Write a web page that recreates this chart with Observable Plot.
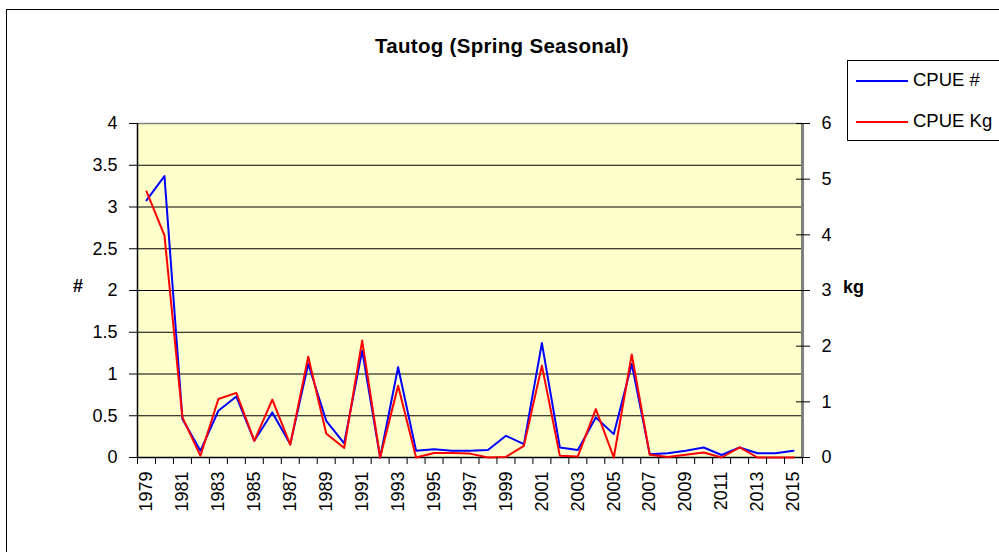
<!DOCTYPE html>
<html>
<head>
<meta charset="utf-8">
<script src="https://cdn.jsdelivr.net/npm/d3@7"></script>
<script src="https://cdn.jsdelivr.net/npm/@observablehq/plot@0.6"></script>
<style>
  body { margin: 0; background: #fff; font-family: "Liberation Sans", Arial, sans-serif; }
  #wrap { position: relative; width: 999px; height: 552px; overflow: hidden; }
  #border { position: absolute; left: 6px; top: 9px; width: 1100px; height: 600px; border-left: 1px solid #000; border-top: 1px solid #000; }
  #title { position: absolute; left: 0; width: 1004px; top: 34px; text-align: center; font-weight: bold; font-size: 20.5px; letter-spacing: 0.3px; }
  .axlab { position: absolute; font-weight: bold; font-size: 18px; }
  #legend { position: absolute; left: 847px; top: 60px; width: 200px; height: 81px; border: 1px solid #000; box-sizing: border-box; background: #fff; }
  .lg { position: absolute; left: 65px; font-size: 18.5px; }
  .lgline { position: absolute; left: 8px; width: 52px; height: 2px; }
  #chart { position: absolute; left: 0; top: 0; }
</style>
</head>
<body>
<div id="wrap">
  <div id="border"></div>
  <div id="chart"></div>
  <div id="title">Tautog (Spring Seasonal)</div>
  <div class="axlab" style="left:73px; top:276px;">#</div>
  <div class="axlab" style="left:843px; top:277px;">kg</div>
  <div id="legend">
    <div class="lgline" style="top:19px; background:#0000FF;"></div>
    <div class="lg" style="top:8px;">CPUE #</div>
    <div class="lgline" style="top:60px; background:#FF0000;"></div>
    <div class="lg" style="top:49px;">CPUE Kg</div>
  </div>
</div>
<script>
const years = [1979,1980,1981,1982,1983,1984,1985,1986,1987,1988,1989,1990,1991,1992,1993,1994,1995,1996,1997,1998,1999,2000,2001,2002,2003,2004,2005,2006,2007,2008,2009,2010,2011,2012,2013,2014,2015];
const cpueNum = [3.08,3.37,0.46,0.08,0.56,0.73,0.20,0.54,0.16,1.12,0.44,0.17,1.28,0.00,1.08,0.08,0.10,0.08,0.08,0.09,0.26,0.16,1.37,0.12,0.09,0.48,0.28,1.12,0.04,0.05,0.08,0.12,0.03,0.12,0.05,0.05,0.08];
const cpueKg = [4.78,3.99,0.72,0.03,1.05,1.16,0.30,1.04,0.23,1.81,0.43,0.17,2.10,0.00,1.29,0.00,0.08,0.08,0.07,0.00,0.01,0.21,1.65,0.03,0.02,0.87,0.00,1.85,0.05,0.01,0.05,0.09,0.00,0.18,0.00,0.00,0.00];
const leftTicks = [0,0.5,1,1.5,2,2.5,3,3.5,4];
const rightTicks = [0,1,2,3,4,5,6];
const xLabels = [1979,1981,1983,1985,1987,1989,1991,1993,1995,1997,1999,2001,2003,2005,2007,2009,2011,2013,2015];

const kgToLeft = 4 / 6;
const rows = years.map((y, i) => ({year: y, num: cpueNum[i], kg: cpueKg[i] * kgToLeft}));
const first = years[0] - 0.5, last = years[years.length - 1] + 0.5;
const boundaries = years.map(y => y - 0.5).concat([last]);

const chart = Plot.plot({
  width: 999,
  height: 552,
  marginLeft: 137,
  marginRight: 197,
  marginTop: 123,
  marginBottom: 95,
  style: {fontFamily: "'Liberation Sans', Arial, sans-serif", fontSize: "18px", background: "transparent", color: "#000"},
  x: {type: "linear", domain: [first, last]},
  y: {domain: [0, 4]},
  marks: [
    Plot.frame({fill: "#FFFFCC", stroke: null}),
    Plot.ruleY(leftTicks, {stroke: "#000", strokeWidth: 1}),
    Plot.ruleY([4], {stroke: "#808080", strokeWidth: 1.5}),
    Plot.ruleX([last], {y1: 0, y2: 4, stroke: "#808080", strokeWidth: 3}),
    Plot.ruleX([first], {y1: 0, y2: 4, stroke: "#000", strokeWidth: 1.5}),
    Plot.ruleY([0], {stroke: "#000", strokeWidth: 1.5}),
    Plot.line(rows, {x: "year", y: "num", stroke: "#0000FF", strokeWidth: 2}),
    Plot.line(rows, {x: "year", y: "kg", stroke: "#FF0000", strokeWidth: 2}),
    Plot.axisY({anchor: "left", ticks: leftTicks, tickSize: 8, tickPadding: 12, tickFormat: d => String(d), label: null, fontSize: 18}),
    Plot.axisY({anchor: "right", ticks: rightTicks.map(k => k * kgToLeft), tickSize: 7, tickPadding: 12, tickFormat: d => String(Math.round(d / kgToLeft)), label: null, fontSize: 18}),
    Plot.axisY({anchor: "right", ticks: rightTicks.map(k => k * kgToLeft), tickSize: -7, tickFormat: () => "", label: null}),
    Plot.axisX({anchor: "bottom", ticks: boundaries, tickSize: 7, tickFormat: () => "", label: null}),
    Plot.axisX({anchor: "bottom", ticks: xLabels, tickSize: 0, tickPadding: 14, tickRotate: -90, tickFormat: d => String(d), label: null, fontSize: 18})
  ]
});
document.getElementById("chart").appendChild(chart);
</script>
</body>
</html>
